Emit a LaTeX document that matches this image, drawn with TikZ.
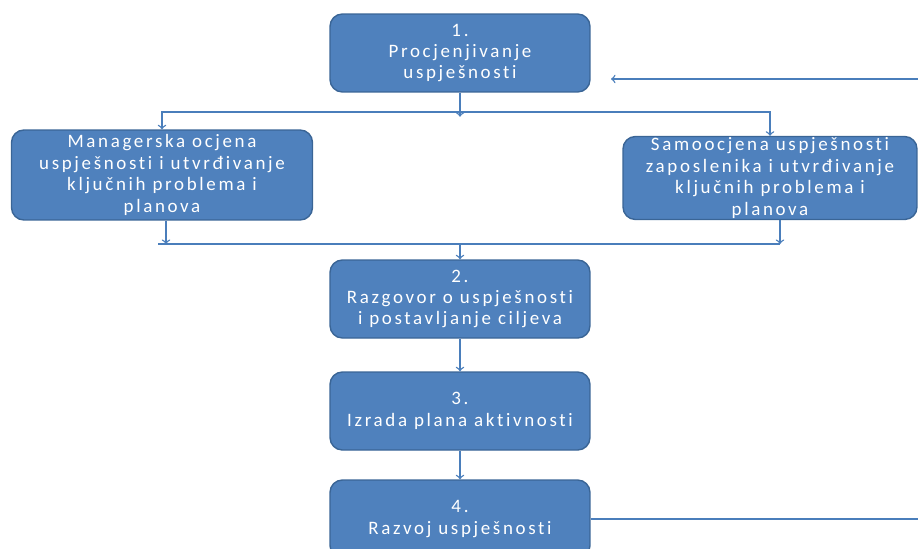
\documentclass[tikz,border=0pt]{standalone}
\usepackage{fontspec}
\setmainfont{Carlito}[LetterSpace=14,Ligatures={NoCommon}]
\usetikzlibrary{arrows,positioning}
\definecolor{boxblue}{HTML}{4F81BD}
\definecolor{boxedge}{HTML}{3A6596}
\definecolor{linkblue}{HTML}{4A7EBB}
\tikzset{
  all/.style  = {align=center},
  basic/.style  = {all, draw=boxedge, fill=boxblue, text=white, line width=0.8pt,
                   rounded corners=7pt, inner sep=0pt, font=\fontsize{10.8}{12.2}\selectfont},
  stage/.style   = {basic, minimum width=5.2cm, minimum height=1.56cm},
  review/.style = {basic, minimum height=1.74cm},
  link/.style = {draw=linkblue, line width=0.8pt}
}
\begin{document}
\begin{tikzpicture}[x=0.02cm,y=-0.02cm]
\useasboundingbox (0,0) rectangle (918,548);
% the four stages, down the middle
\node[stage] (s1) at (460,53) {1.\\Procjenjivanje\\uspješnosti};
\node[stage] (s2) at (460,299) {2.\\Razgovor o uspješnosti\\i postavljanje ciljeva};
\node[stage] (s3) at (460,411) {3.\\Izrada plana aktivnosti};
\node[stage] (s4) at (460,519) {4.\\Razvoj uspješnosti};
% the two appraisals, side by side
\node[review, minimum width=6.02cm, minimum height=1.8cm] (mgr) at (162,175)
  {Managerska ocjena\\uspješnosti i utvrđivanje\\ključnih problema i\\planova};
\node[review, minimum width=5.88cm, minimum height=1.66cm] (self) at (770,178)
  {Samoocjena uspješnosti\\zaposlenika i utvrđivanje\\ključnih problema i\\planova};
\coordinate (split) at (460,112);
\coordinate (join) at (460,244);
\coordinate (back) at (918,79);
\coordinate (backtip) at (611,79);

% stage 1 splits into both appraisals
\draw[link,->] (s1.south) -- ++(0,24);
\draw[link,->] (split) -| (mgr.north);
\draw[link,->] (split) -| (self.north);
% both appraisals come together again
\draw[link,->] ([xshift=0.08cm]mgr.south) -- ([xshift=0.08cm]mgr.south |- join);
\draw[link,->] ([xshift=0.2cm]self.south) -- ([xshift=0.2cm]self.south |- join);
\draw[link] ([xshift=-0.08cm]mgr.south |- join) -- ([xshift=0.2cm]self.south |- join);
\draw[link,->] (join) -- (s2.north);
\draw[link,->] (s2) -- (s3);
\draw[link,->] (s3) -- (s4);
% loop back to the start
\draw[link] (s4.east) -- (s4.east -| back);
\draw[link,->] (back) -- (backtip);
\end{tikzpicture}
\end{document}
